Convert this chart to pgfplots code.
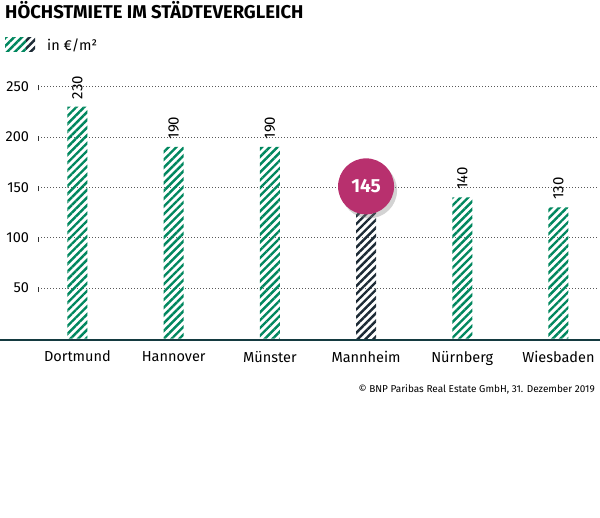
\documentclass[border=0pt]{standalone}
\usepackage{pgfplots}
\pgfplotsset{compat=1.18}
\usepackage{fontspec}
\setmainfont{Fira Sans}
\usetikzlibrary{patterns.meta,shadows}
\definecolor{bnpgreen}{HTML}{00875E}
\definecolor{bnpnavy}{HTML}{1C2A35}
\definecolor{bnpmag}{HTML}{B8306E}
\definecolor{axisdark}{HTML}{143A40}
\begin{document}
\begin{tikzpicture}[x=1pt,y=1pt]
\path[use as bounding box] (0,0) rectangle (600,518);
% title and legend
\node[anchor=base west,inner sep=0pt,font=\fontsize{18.5}{22}\selectfont\bfseries] at (5,499) {HÖCHSTMIETE IM STÄDTEVERGLEICH};
\path[pattern={Lines[angle=45,distance=5.5pt,line width=2.4pt]},pattern color=bnpgreen] (5,466) rectangle (26,480);
\path[pattern={Lines[angle=45,distance=5.5pt,line width=2.4pt]},pattern color=bnpnavy] (26,466) rectangle (35,480);
\node[anchor=base west,inner sep=0pt,font=\fontsize{14.5}{16}\selectfont] at (47,467) {in €/m²};
\begin{axis}[
  at={(40,178)}, anchor=south west,
  scale only axis, width=560pt, height=272.2pt,
  xmin=-0.405, xmax=5.416, ymin=0, ymax=270,
  axis lines=left, axis line style={draw=none}, clip=false,
  tick style={draw=none},
  ytick={50,100,150,200,250},
  ymajorgrids, grid style={dash pattern=on 0.8pt off 2.2pt, line width=0.8pt, black!65},
  yticklabel style={font=\fontsize{14.5}{16}\selectfont, xshift=-6pt},
  xtick={0,...,5},
  xticklabels={Dortmund,Hannover,Münster,Mannheim,Nürnberg,Wiesbaden},
  xticklabel style={font=\fontsize{14.5}{16}\selectfont, yshift=-9pt},
  major tick length=0pt,
  ybar, bar width=20pt, bar shift=0pt,
  nodes near coords,
  every node near coord/.append style={rotate=90, anchor=west, font=\fontsize{15}{17}\selectfont, xshift=4pt},
  /pgf/number format/assume math mode=true,
]
\addplot[draw=none, pattern={Lines[angle=45,distance=5.5pt,line width=2.4pt]}, pattern color=bnpgreen]
  coordinates {(0,230) (1,190) (2,190) (4,140) (5,130)};
\addplot[draw=none, pattern={Lines[angle=45,distance=5.5pt,line width=2.4pt]}, pattern color=bnpnavy,
  every node near coord/.style={circle, fill=bnpmag, minimum size=56pt, inner sep=0pt, anchor=center, yshift=6pt,
    text=white, font=\fontsize{19}{21}\selectfont\bfseries,
    drop shadow={opacity=0.35, shadow xshift=3pt, shadow yshift=-4pt}}]
  coordinates {(3,145)};
\end{axis}
% axis line and y tick marks
\draw[axisdark, line width=2.5pt] (0,178) -- (600,178);
\foreach \v in {50,100,150,200,250}
  \draw[black!80, line width=0.9pt] (38,{178+\v*1.008-2.5}) -- ++(0,5);
% source
\node[anchor=base east,inner sep=0pt,font=\fontsize{10}{12}\selectfont] at (595,125) {© BNP Paribas Real Estate GmbH, 31. Dezember 2019};
\end{tikzpicture}
\end{document}
